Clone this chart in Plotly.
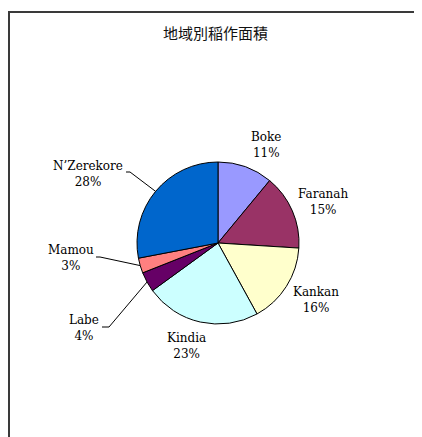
import math
import plotly.graph_objects as go

# ---- data ----
regions = ["Boke", "Faranah", "Kankan", "Kindia", "Labe", "Mamou", "N’Zerekore"]
shares = [11, 15, 16, 23, 4, 3, 28]
title_text = "地域別稲作面積"

# ---- style / layout ----
colors = ["#9999FF", "#993366", "#FFFFCC", "#CCFFFF", "#660066", "#FF8080", "#0066CC"]
W, H = 422, 437
OFF = 8  # page body margin
CX, CY, R = 218, 243, 81  # pie centre / radius in page pixels

# label centre positions (page pixels) and optional leader elbow (page pixels)
label_pos = {
    "Boke": (266, 145),
    "Faranah": (323, 202),
    "Kankan": (316, 300),
    "Kindia": (186, 346),
    "Labe": (84, 328),
    "Mamou": (71, 258),
    "N’Zerekore": (88, 174),
}
leader = {
    "Labe": [(102, 327), (109, 327)],
    "Mamou": [(96, 257), (100, 257)],
    "N’Zerekore": [(126, 172), (130, 172)],
}


def px(x):
    return (x - OFF) / W


def py(y):
    return 1 - (y - OFF) / H


fig = go.Figure(go.Pie(
    labels=regions,
    values=shares,
    sort=False,
    direction="clockwise",
    rotation=0,
    marker=dict(colors=colors, line=dict(color="black", width=1)),
    textinfo="none",
    hoverinfo="label+percent",
    showlegend=False,
    domain=dict(x=[px(CX - R), px(CX + R)], y=[py(CY + R), py(CY - R)]),
))

annotations = [dict(
    text=title_text, x=px(215), y=py(32), xref="paper", yref="paper",
    showarrow=False, xanchor="center", yanchor="middle",
    font=dict(family="Noto Sans CJK JP", size=15, color="#111"),
)]
shapes = [dict(
    type="rect", xref="paper", yref="paper",
    x0=px(9), x1=px(W + 30), y0=py(H + 30), y1=py(12),
    line=dict(color="#3a3a3a", width=2), fillcolor="rgba(0,0,0,0)",
)]

total = sum(shares)
cum = 0
for name, v in zip(regions, shares):
    mid = (cum + v / 2) / total * 2 * math.pi
    cum += v
    lx, ly = label_pos[name]
    pct = round(v / total * 100)
    annotations.append(dict(
        text=f"{name}<br>{pct}%", x=px(lx), y=py(ly), xref="paper", yref="paper",
        showarrow=False, xanchor="center", yanchor="middle",
        font=dict(family="DejaVu Serif", size=12, color="black"),
    ))
    if name in leader:
        ex = CX + R * math.sin(mid)
        ey = CY - R * math.cos(mid)
        pts = leader[name] + [(ex, ey)]
        path = "M " + " L ".join(f"{px(a)},{py(b)}" for a, b in pts)
        shapes.append(dict(type="path", xref="paper", yref="paper", path=path,
                           line=dict(color="black", width=1)))

fig.update_layout(
    width=W, height=H,
    margin=dict(l=0, r=0, t=0, b=0),
    paper_bgcolor="white", plot_bgcolor="white",
    annotations=annotations, shapes=shapes,
)

fig.write_html("out.html")
